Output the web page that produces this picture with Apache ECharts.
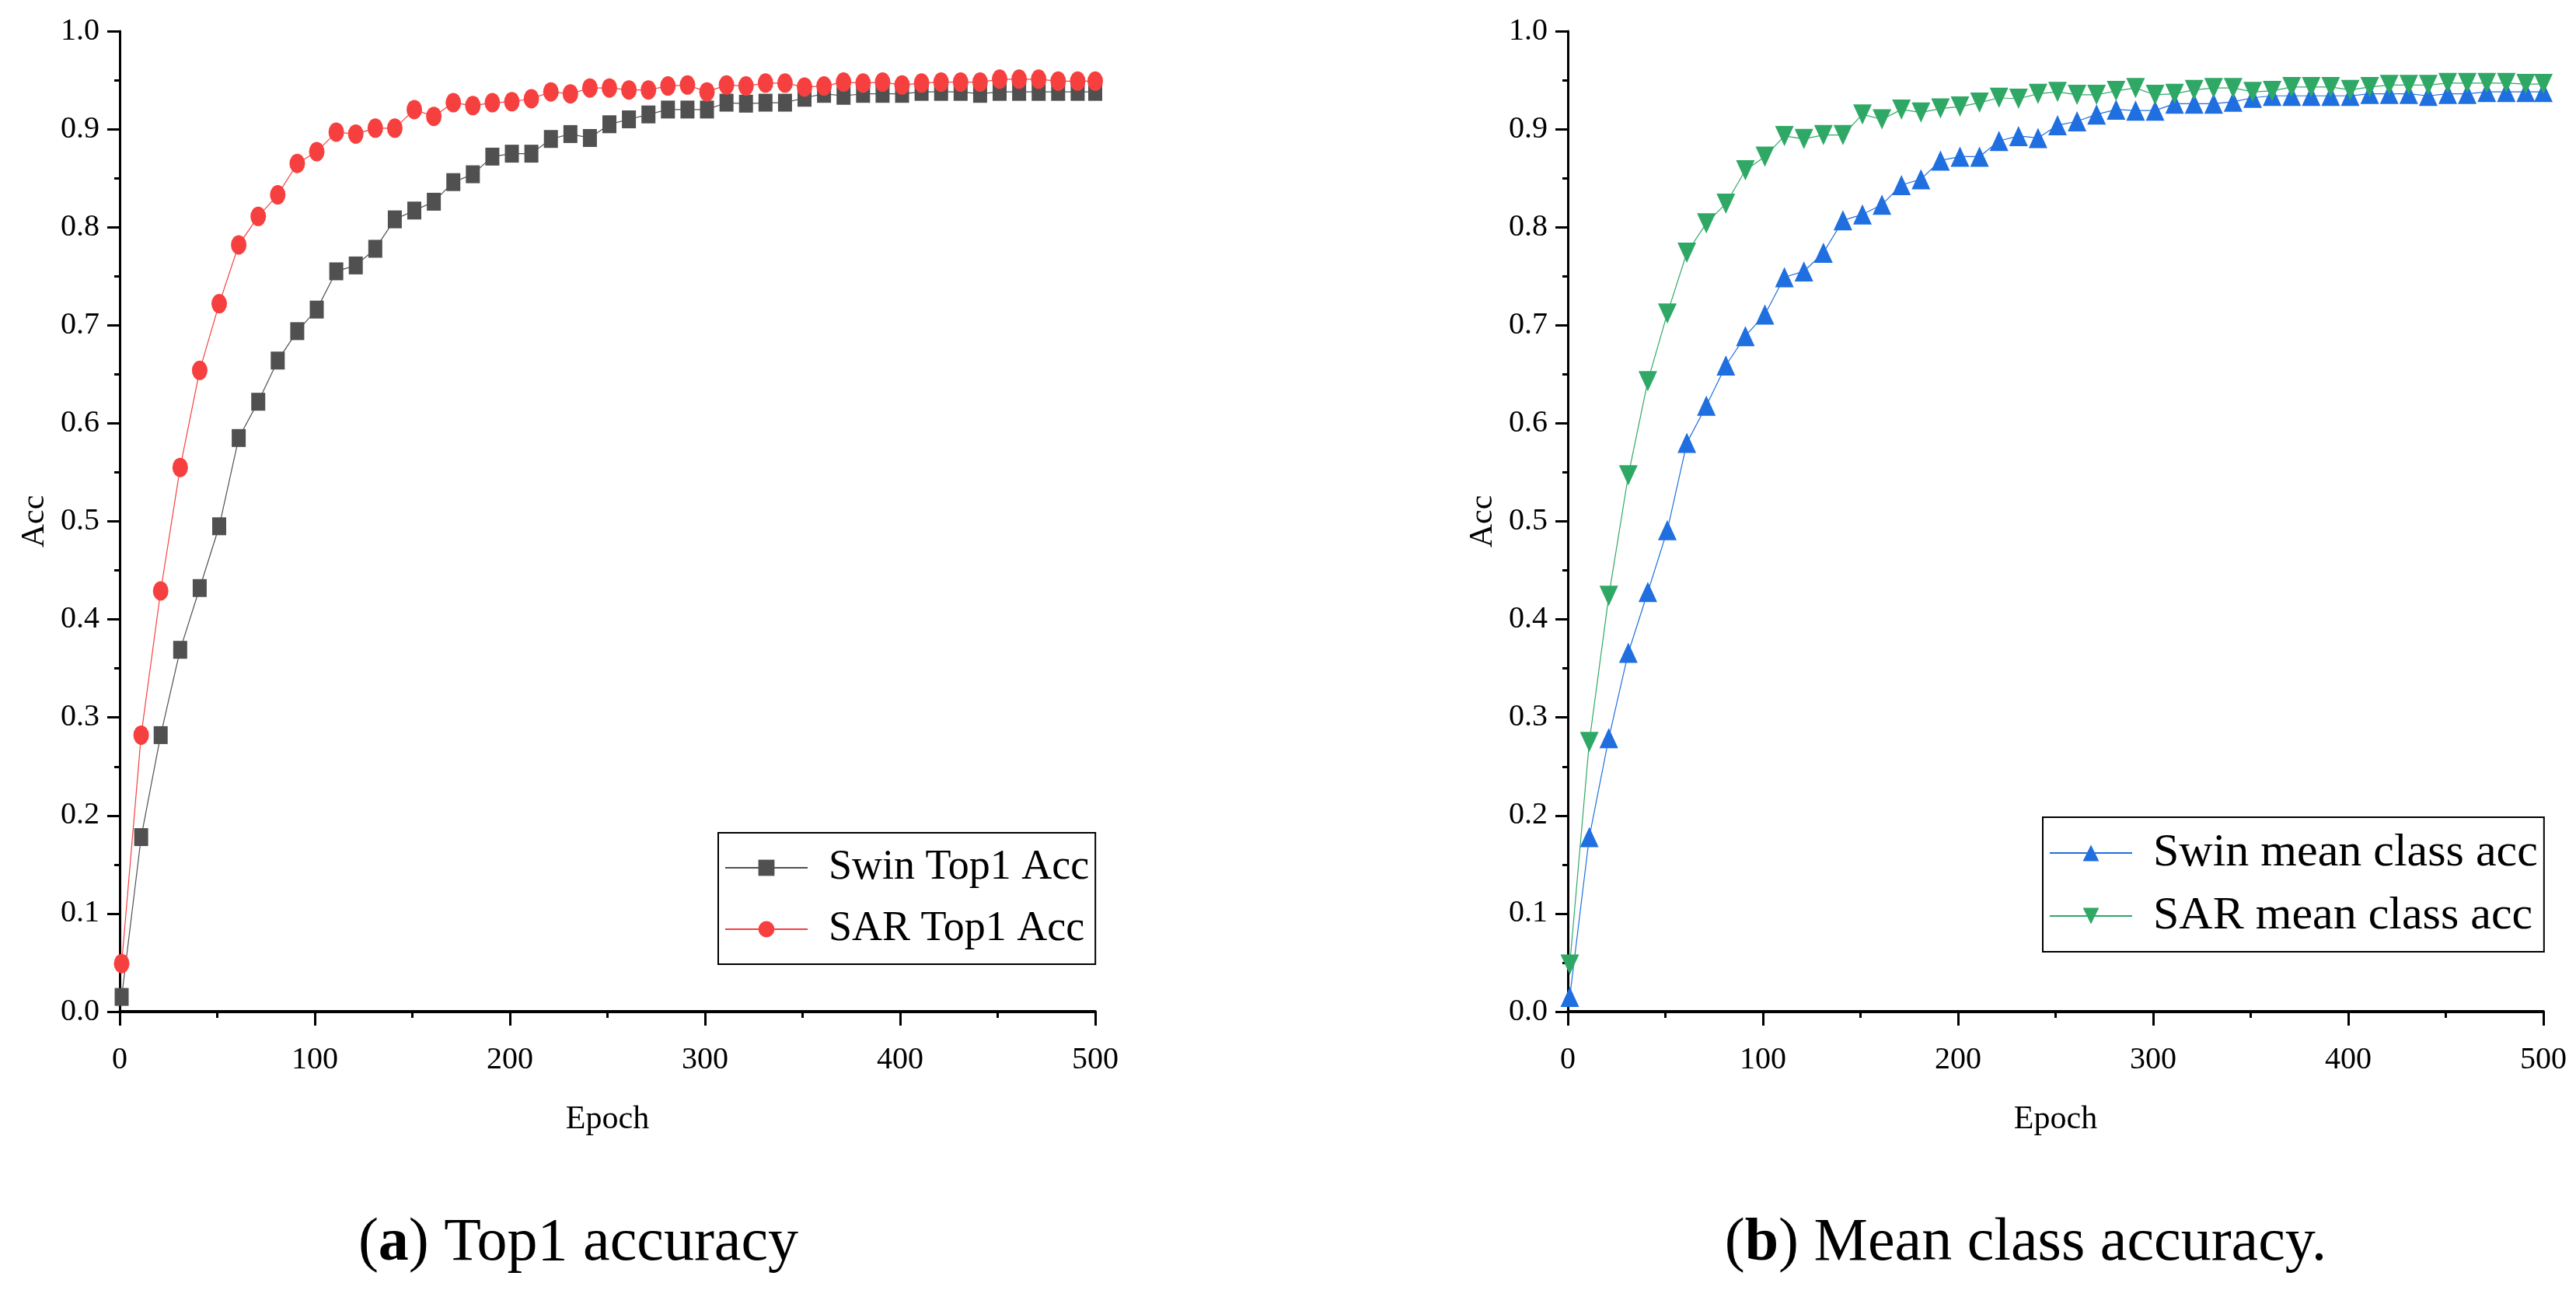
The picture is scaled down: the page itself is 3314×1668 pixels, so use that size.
<!DOCTYPE html>
<html>
<head>
<meta charset="utf-8">
<script src="https://cdn.jsdelivr.net/npm/echarts@6/dist/echarts.min.js"></script>
<style>
  html, body { margin: 0; padding: 0; background: #fff; }
  #main { width: 3314px; height: 1668px; }
</style>
</head>
<body>
<div id="main"></div>
<script>
// marker values (one marker every 10 epochs)
var epochs = [1, 11, 21, 31, 41, 51, 61, 71, 81, 91, 101, 111, 121, 131, 141, 151, 161, 171, 181, 191,
    201, 211, 221, 231, 241, 251, 261, 271, 281, 291, 301, 311, 321, 331, 341, 351, 361, 371, 381, 391,
    401, 411, 421, 431, 441, 451, 461, 471, 481, 491, 500];

var swinTop1 = [0.015, 0.178, 0.282, 0.369, 0.432, 0.495, 0.585, 0.622, 0.664, 0.694,
    0.716, 0.755, 0.761, 0.778, 0.808, 0.817, 0.826, 0.846, 0.854, 0.872,
    0.875, 0.875, 0.890, 0.895, 0.891, 0.905, 0.910, 0.915, 0.920, 0.920,
    0.920, 0.927, 0.926, 0.927, 0.927, 0.932, 0.936, 0.934, 0.936, 0.936,
    0.936, 0.938, 0.938, 0.938, 0.936, 0.938, 0.938, 0.938, 0.938, 0.938, 0.938];

var sarTop1 = [0.049, 0.282, 0.429, 0.555, 0.654, 0.722, 0.782, 0.811, 0.833, 0.865,
    0.877, 0.897, 0.895, 0.901, 0.901, 0.920, 0.913, 0.927, 0.924, 0.927,
    0.928, 0.931, 0.938, 0.936, 0.942, 0.942, 0.940, 0.940, 0.944, 0.945,
    0.938, 0.945, 0.944, 0.947, 0.947, 0.943, 0.944, 0.948, 0.947, 0.948,
    0.945, 0.947, 0.948, 0.948, 0.948, 0.951, 0.951, 0.951, 0.949, 0.949, 0.949];

var swinMean = [0.015, 0.178, 0.279, 0.366, 0.428, 0.491, 0.580, 0.618, 0.659, 0.689,
    0.711, 0.749, 0.755, 0.774, 0.807, 0.813, 0.823, 0.843, 0.849, 0.868,
    0.872, 0.872, 0.888, 0.893, 0.891, 0.904, 0.908, 0.915, 0.920, 0.919,
    0.919, 0.926, 0.926, 0.926, 0.928, 0.932, 0.934, 0.934, 0.934, 0.934,
    0.934, 0.936, 0.936, 0.936, 0.934, 0.936, 0.936, 0.938, 0.938, 0.938, 0.938];

var sarMean = [0.048, 0.275, 0.424, 0.547, 0.643, 0.712, 0.774, 0.804, 0.824, 0.858,
    0.872, 0.893, 0.890, 0.894, 0.894, 0.915, 0.910, 0.920, 0.917, 0.921,
    0.923, 0.927, 0.932, 0.931, 0.936, 0.938, 0.935, 0.935, 0.939, 0.942,
    0.935, 0.936, 0.940, 0.942, 0.942, 0.938, 0.939, 0.943, 0.943, 0.943,
    0.940, 0.943, 0.945, 0.945, 0.945, 0.947, 0.947, 0.947, 0.947, 0.946, 0.946];

var seriesNames = ['Swin Top1 Acc', 'SAR Top1 Acc', 'Swin mean class acc', 'SAR mean class acc'];
var captions = ['a', 'Top1 accuracy', 'b', 'Mean class accuracy.'];

var FONT = 'Liberation Serif';

function pairs(ys) {
    return epochs.map(function (e, i) { return [e, ys[i]]; });
}

function xAxisFor(idx) {
    return {
        gridIndex: idx,
        type: 'value',
        min: 0, max: 500, interval: 100,
        name: 'Epoch',
        nameLocation: 'middle',
        nameGap: 118,
        nameTextStyle: { fontFamily: FONT, fontSize: 42, color: '#000' },
        axisLine: { lineStyle: { color: '#000', width: 4 } },
        axisTick: { length: 18, lineStyle: { color: '#000', width: 3 } },
        minorTick: { show: true, splitNumber: 2, length: 8, lineStyle: { color: '#000', width: 3 } },
        splitLine: { show: false },
        axisLabel: { fontFamily: FONT, fontSize: 40, color: '#000', margin: 42 }
    };
}

function yAxisFor(idx) {
    return {
        gridIndex: idx,
        type: 'value',
        min: 0, max: 1, interval: 0.1,
        name: 'Acc',
        nameLocation: 'middle',
        nameRotate: 90,
        nameGap: 88,
        nameTextStyle: { fontFamily: FONT, fontSize: 42, color: '#000' },
        axisLine: { show: true, lineStyle: { color: '#000', width: 3 } },
        axisTick: { show: true, length: 16, lineStyle: { color: '#000', width: 3 } },
        minorTick: { show: true, splitNumber: 2, length: 7, lineStyle: { color: '#000', width: 3 } },
        splitLine: { show: false },
        axisLabel: {
            fontFamily: FONT, fontSize: 40, color: '#000', margin: 26,
            formatter: function (v) { return v.toFixed(1); }
        }
    };
}

function lineSeries(name, data, idx, color, symbol, size, rotate) {
    return {
        name: name,
        type: 'line',
        xAxisIndex: idx,
        yAxisIndex: idx,
        data: pairs(data),
        symbol: symbol,
        symbolSize: size,
        symbolRotate: rotate || 0,
        showAllSymbol: true,
        lineStyle: { color: color, width: 1.2 },
        itemStyle: { color: color, borderWidth: 0 },
        emphasis: { disabled: true }
    };
}

function legendFor(names, left, top, fontSize) {
    return {
        data: names,
        orient: 'vertical',
        left: left,
        top: top,
        itemWidth: 106,
        itemHeight: 26,
        itemGap: 21,
        padding: [16, 8, 16, 8],
        borderColor: '#000',
        borderWidth: 2,
        textStyle: {
            fontFamily: FONT, fontSize: fontSize, color: '#000',
            lineHeight: 58, padding: [0, 0, 0, 22]
        }
    };
}

var chart = echarts.init(document.getElementById('main'));
var option = {
    animation: false,
    backgroundColor: '#fff',
    grid: [
        { left: 154, top: 40, width: 1255, height: 1261 },
        { left: 2017, top: 40, width: 1255, height: 1261 }
    ],
    xAxis: [xAxisFor(0), xAxisFor(1)],
    yAxis: [yAxisFor(0), yAxisFor(1)],
    legend: [
        legendFor([seriesNames[0], seriesNames[1]], 924, 1071, 54),
        legendFor([seriesNames[2], seriesNames[3]], 2628, 1051, 60)
    ],
    series: [
        lineSeries(seriesNames[0], swinTop1, 0, '#505050', 'rect', [18, 23]),
        lineSeries(seriesNames[1], sarTop1, 0, '#f5403f', 'circle', [20, 25]),
        lineSeries(seriesNames[2], swinMean, 1, '#1f6fe0', 'triangle', [24, 26]),
        lineSeries(seriesNames[3], sarMean, 1, '#2fa866', 'triangle', [24, 26], 180)
    ],
    graphic: [
        {
            type: 'text', x: 744, y: 1600,
            style: {
                text: '{n|(}{b|' + captions[0] + '}{n|) ' + captions[1] + '}',
                align: 'center', verticalAlign: 'middle',
                rich: {
                    n: { fontFamily: FONT, fontSize: 78, fill: '#000' },
                    b: { fontFamily: FONT, fontSize: 78, fontWeight: 'bold', fill: '#000' }
                }
            }
        },
        {
            type: 'text', x: 2606, y: 1600,
            style: {
                text: '{n|(}{b|' + captions[2] + '}{n|) ' + captions[3] + '}',
                align: 'center', verticalAlign: 'middle',
                rich: {
                    n: { fontFamily: FONT, fontSize: 78, fill: '#000' },
                    b: { fontFamily: FONT, fontSize: 78, fontWeight: 'bold', fill: '#000' }
                }
            }
        }
    ]
};
chart.setOption(option);
</script>
</body>
</html>
